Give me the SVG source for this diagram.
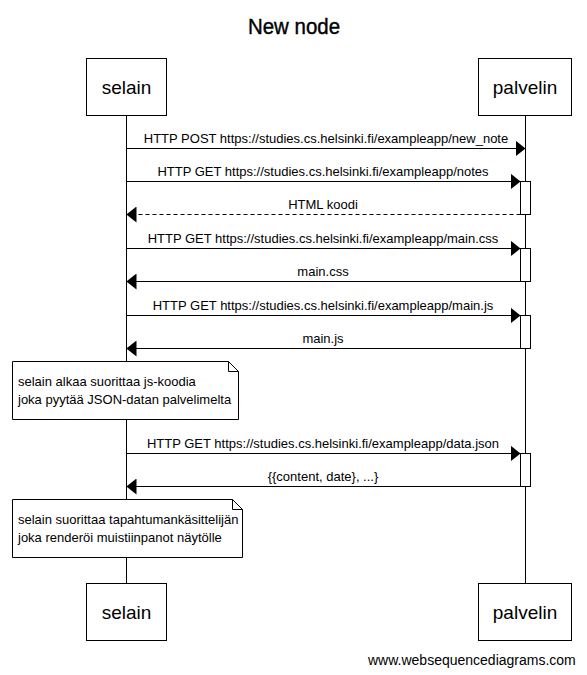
<svg xmlns="http://www.w3.org/2000/svg" width="587" height="675" viewBox="0 0 587 675">
  <style>
    text { font-family: "Liberation Sans", Arial, sans-serif; fill: #000; }
    .title { font-size: 22px; text-anchor: middle; stroke: #000; stroke-width: 0.4; }
    .actor rect { fill: #fff; stroke: #000; stroke-width: 1; }
    .actor text { font-size: 19px; text-anchor: middle; }
    .life { stroke: #000; stroke-width: 1; }
    .msg { stroke: #000; stroke-width: 1; fill: none; }
    .dash { stroke-dasharray: 4 3; }
    .lbl { font-size: 13px; text-anchor: middle; }
    .act { fill: #fff; stroke: #000; stroke-width: 1; }
    .note path { fill: #fff; stroke: #000; stroke-width: 1; }
    .note text { font-size: 13px; }
    .foot { font-size: 14px; }
  </style>
  <defs>
    <marker id="head" markerWidth="10" markerHeight="16" refX="10" refY="8" orient="auto" markerUnits="userSpaceOnUse">
      <path d="M0,0 L10,8 L0,16 Z" fill="#000"/>
    </marker>
  </defs>

  <rect width="587" height="675" fill="#fff"/>
  <text class="title" x="294" y="34" textLength="92" lengthAdjust="spacingAndGlyphs">New node</text>

  <!-- lifelines -->
  <g id="lifelines">
    <line class="life" x1="126.5" y1="115" x2="126.5" y2="584"/>
    <line class="life" x1="525.5" y1="115" x2="525.5" y2="584"/>
  </g>

  <!-- activation bars -->
  <g id="activations">
    <rect class="act" x="520.5" y="181.5" width="10" height="33"/>
    <rect class="act" x="520.5" y="248.5" width="10" height="33"/>
    <rect class="act" x="520.5" y="315.5" width="10" height="33"/>
    <rect class="act" x="520.5" y="453.5" width="10" height="33"/>
  </g>

  <g id="connectors">
    <line class="msg" x1="126.5" y1="148.5" x2="525.5" y2="148.5" marker-end="url(#head)"/>
    <text class="lbl" x="326" y="143">HTTP POST https://studies.cs.helsinki.fi/exampleapp/new_note</text>

    <line class="msg" x1="126.5" y1="181.5" x2="520.5" y2="181.5" marker-end="url(#head)"/>
    <text class="lbl" x="323" y="176">HTTP GET https://studies.cs.helsinki.fi/exampleapp/notes</text>

    <line class="msg dash" x1="520.5" y1="214.5" x2="126.5" y2="214.5" marker-end="url(#head)"/>
    <text class="lbl" x="323" y="209">HTML koodi</text>

    <line class="msg" x1="126.5" y1="248.5" x2="520.5" y2="248.5" marker-end="url(#head)"/>
    <text class="lbl" x="323" y="243">HTTP GET https://studies.cs.helsinki.fi/exampleapp/main.css</text>

    <line class="msg" x1="520.5" y1="281.5" x2="126.5" y2="281.5" marker-end="url(#head)"/>
    <text class="lbl" x="323" y="276">main.css</text>

    <line class="msg" x1="126.5" y1="315.5" x2="520.5" y2="315.5" marker-end="url(#head)"/>
    <text class="lbl" x="323" y="310">HTTP GET https://studies.cs.helsinki.fi/exampleapp/main.js</text>

    <line class="msg" x1="520.5" y1="348.5" x2="126.5" y2="348.5" marker-end="url(#head)"/>
    <text class="lbl" x="323" y="343">main.js</text>

    <line class="msg" x1="126.5" y1="453.5" x2="520.5" y2="453.5" marker-end="url(#head)"/>
    <text class="lbl" x="323" y="448">HTTP GET https://studies.cs.helsinki.fi/exampleapp/data.json</text>

    <line class="msg" x1="520.5" y1="486.5" x2="126.5" y2="486.5" marker-end="url(#head)"/>
    <text class="lbl" x="323" y="481">{{content, date}, ...}</text>
  </g>

  <!-- notes -->
  <g id="note1" class="note">
    <path d="M12.5,361.5 H228.5 L238.5,371.5 V419.5 H12.5 Z M228.5,361.5 V371.5 H238.5"/>
    <text x="18" y="386">selain alkaa suorittaa js-koodia</text>
    <text x="18" y="404">joka pyytää JSON-datan palvelimelta</text>
  </g>
  <g id="note2" class="note">
    <path d="M12.5,499.5 H232.5 L242.5,509.5 V557.5 H12.5 Z M232.5,499.5 V509.5 H242.5"/>
    <text x="18" y="524">selain suorittaa tapahtumankäsittelijän</text>
    <text x="18" y="542">joka renderöi muistiinpanot näytölle</text>
  </g>

  <!-- participants -->
  <g id="selain-top" class="actor">
    <rect x="86.5" y="58.5" width="80" height="57"/>
    <text x="126.5" y="94">selain</text>
  </g>
  <g id="palvelin-top" class="actor">
    <rect x="478.5" y="58.5" width="93" height="57"/>
    <text x="525" y="94">palvelin</text>
  </g>
  <g id="selain-bottom" class="actor">
    <rect x="86.5" y="583.5" width="80" height="57"/>
    <text x="126.5" y="619">selain</text>
  </g>
  <g id="palvelin-bottom" class="actor">
    <rect x="478.5" y="583.5" width="93" height="57"/>
    <text x="525" y="619">palvelin</text>
  </g>

  <text class="foot" x="368" y="665">www.websequencediagrams.com</text>
</svg>
